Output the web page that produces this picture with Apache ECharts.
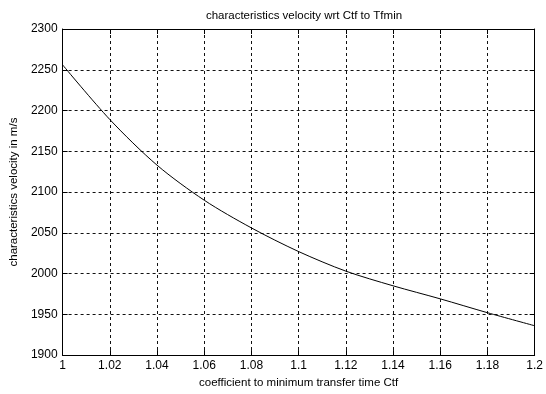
<!DOCTYPE html>
<html>
<head>
<meta charset="utf-8">
<script src="https://cdn.jsdelivr.net/npm/echarts@6/dist/echarts.min.js"></script>
<style>
  html, body { margin: 0; padding: 0; background: #fff; }
  #chart { width: 546px; height: 394px; }
</style>
</head>
<body>
<div id="chart"></div>
<script>
// Transfer-time coefficient and the resulting characteristic velocity (m/s)
const ctf = [1.00, 1.02, 1.04, 1.06, 1.08, 1.10, 1.12, 1.14, 1.16, 1.18, 1.20];
const velocity = [2256, 2189, 2133, 2090, 2056, 2027, 2003, 1985, 1969, 1952, 1936];

// Axis tick values
const xTicks = [1, 1.02, 1.04, 1.06, 1.08, 1.1, 1.12, 1.14, 1.16, 1.18, 1.2];
const yTicks = [1900, 1950, 2000, 2050, 2100, 2150, 2200, 2250, 2300];

const FONT = 'Liberation Sans, Arial, sans-serif';
const fmtX = v => String(parseFloat(Number(v).toFixed(2)));
const fmtY = v => String(Math.round(v));

const gridDash = { color: '#111', width: 1, type: [3, 3] };

const chart = echarts.init(document.getElementById('chart'), null, { renderer: 'canvas' });
chart.setOption({
  backgroundColor: '#fff',
  animation: false,
  title: {
    text: 'characteristics velocity wrt Ctf to Tfmin',
    left: 299, top: 5, textAlign: 'center',
    textStyle: { fontFamily: FONT, fontSize: 11.5, fontWeight: 'normal', color: '#000' }
  },
  grid: { left: 62, right: 10, top: 29, bottom: 33, containLabel: false },
  xAxis: [{
    type: 'value',
    min: xTicks[0], max: xTicks[xTicks.length - 1], interval: 0.02,
    name: 'coefficient to minimum transfer time Ctf',
    nameLocation: 'middle', nameGap: 21,
    nameTextStyle: { fontFamily: FONT, fontSize: 11.5, color: '#000' },
    axisLine: { show: true, lineStyle: { color: '#000', width: 1 } },
    axisTick: { show: true, inside: true, length: 5, lineStyle: { color: '#000' } },
    axisLabel: { fontFamily: FONT, fontSize: 12, color: '#000', margin: 5, formatter: fmtX },
    splitLine: { show: true, lineStyle: gridDash }
  }, {
    type: 'value', position: 'top',
    min: xTicks[0], max: xTicks[xTicks.length - 1], interval: 0.02,
    axisLine: { show: true, onZero: false, lineStyle: { color: '#000', width: 1 } },
    axisTick: { show: true, inside: true, length: 5, lineStyle: { color: '#000' } },
    axisLabel: { show: false },
    splitLine: { show: false }
  }],
  yAxis: [{
    type: 'value',
    min: yTicks[0], max: yTicks[yTicks.length - 1], interval: 50,
    name: 'characteristics velocity in m/s',
    nameLocation: 'middle', nameGap: 42,
    nameTextStyle: { fontFamily: FONT, fontSize: 11.5, color: '#000' },
    axisLine: { show: true, lineStyle: { color: '#000', width: 1 } },
    axisTick: { show: true, inside: true, length: 5, lineStyle: { color: '#000' } },
    axisLabel: { fontFamily: FONT, fontSize: 12, color: '#000', margin: 5, formatter: fmtY },
    splitLine: { show: true, lineStyle: gridDash }
  }, {
    type: 'value', position: 'right',
    min: yTicks[0], max: yTicks[yTicks.length - 1], interval: 50,
    axisLine: { show: true, onZero: false, lineStyle: { color: '#000', width: 1 } },
    axisTick: { show: true, inside: true, length: 5, lineStyle: { color: '#000' } },
    axisLabel: { show: false },
    splitLine: { show: false }
  }],
  series: [{
    type: 'line',
    data: ctf.map((c, i) => [c, velocity[i]]),
    smooth: 0.3,
    showSymbol: false,
    lineStyle: { color: '#000', width: 1 },
    z: 5
  }]
});
</script>
</body>
</html>
